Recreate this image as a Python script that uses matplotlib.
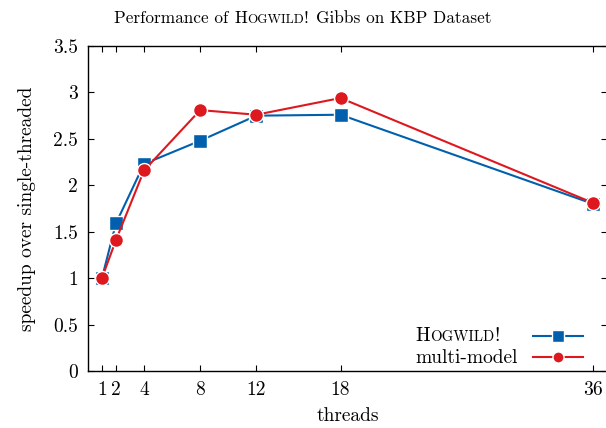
import numpy as np
import matplotlib
matplotlib.use('Agg')
import matplotlib.pyplot as plt
from matplotlib.transforms import offset_copy

threads = [1, 2, 4, 8, 12, 18, 36]
hogwild = [1.0, 1.59, 2.23, 2.48, 2.75, 2.76, 1.80]
multimodel = [1.0, 1.41, 2.16, 2.81, 2.76, 2.94, 1.81]
yticks = [0, 0.5, 1, 1.5, 2, 2.5, 3, 3.5]
ytick_labels = ['0', '0.5', '1', '1.5', '2', '2.5', '3', '3.5']

blue = '#0060ad'
red = '#dd181f'
FS = 14
TS = 12.4
SC = 0.76

plt.rcParams['font.family'] = 'cmr10'
plt.rcParams['axes.formatter.use_mathtext'] = True

fig = plt.figure(figsize=(6.06, 4.28), dpi=100)
ax = fig.add_axes([0.145, 0.133, 0.857, 0.7595])

ax.plot(threads, hogwild, color=blue, lw=1.5, marker='s', ms=10,
        mec='white', mew=1, zorder=3)
ax.plot(threads, multimodel, color=red, lw=1.5, marker='o', ms=10,
        mec='white', mew=1, zorder=4)

ax.set_xlim(0, 37)
ax.set_ylim(0, 3.5)
ax.set_xticks(threads)
ax.set_xticklabels([str(t) for t in threads], fontsize=FS)
ax.set_yticks(yticks)
ax.set_yticklabels(ytick_labels, fontsize=FS)
ax.tick_params(direction='in', top=True, right=True, length=4, width=0.8, pad=7)
for s in ax.spines.values():
    s.set_linewidth(1.0)
ax.set_xlabel('threads', fontsize=FS, labelpad=6)
ax.set_ylabel('speedup over single-threaded', fontsize=FS, labelpad=12)

renderer = fig.canvas.get_renderer()


def text_width(s, size):
    # bracket with x so leading/trailing spaces count
    a = fig.text(0, 0, 'x' + s + 'x', fontsize=size)
    b = fig.text(0, 0, 'xx', fontsize=size)
    w = a.get_window_extent(renderer).width - b.get_window_extent(renderer).width
    a.remove()
    b.remove()
    return w


def smallcaps(x, y, parts, transform, ha='left'):
    widths = [text_width(s, sz) for s, sz in parts]
    total = sum(widths)
    off = -total / 2 if ha == 'center' else 0
    for (s, sz), w in zip(parts, widths):
        tr = offset_copy(transform, fig=fig, x=off, y=0, units='dots')
        fig.text(x, y, s, fontsize=sz, transform=tr, ha='left', va='baseline')
        off += w


smallcaps(0.5, 0.947, [('Performance of ', TS), ('H', TS), ('OGWILD', TS * SC),
                       ('!', TS), ('  ', TS * 0.7), ('Gibbs on KBP Dataset', TS)],
          fig.transFigure, ha='center')

# legend
legend_rows = [
    ([('H', FS), ('OGWILD', FS * SC), ('!', FS)], blue, 's', 0.108),
    ([('multi-model', FS)], red, 'o', 0.042),
]
for parts, col, mk, yy in legend_rows:
    smallcaps(0.630, yy - 0.016, parts, ax.transAxes)
    ax.plot([0.857, 0.954], [yy, yy], color=col, lw=1.5, transform=ax.transAxes,
            clip_on=False, zorder=5)
    ax.plot([0.905], [yy], color=col, marker=mk, ms=8, mec='white', mew=1,
            transform=ax.transAxes, clip_on=False, zorder=6)

fig.savefig('out.png', dpi=100)
